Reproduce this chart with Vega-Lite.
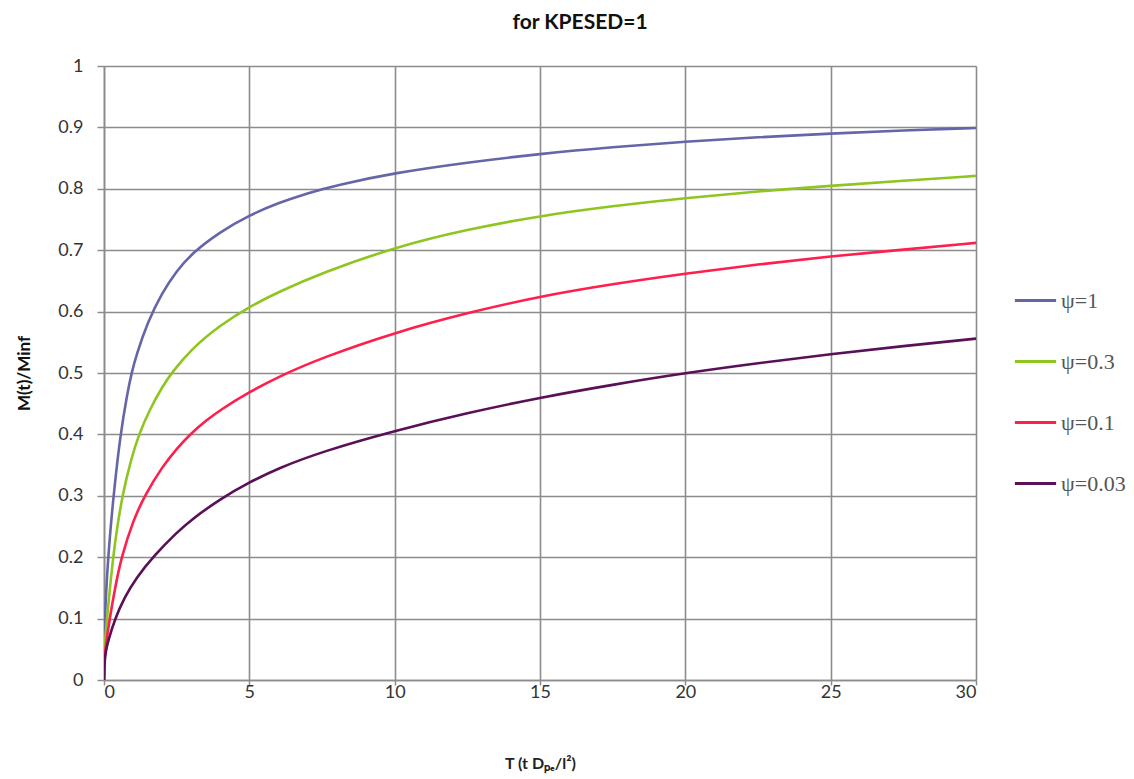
{
  "$schema": "https://vega.github.io/schema/vega-lite/v6.json",
  "width": 872,
  "height": 614,
  "autosize": "none",
  "padding": {"left": 104, "top": 66, "right": 158, "bottom": 99},
  "background": "white",
  "title": {
    "text": "for KPESED=1",
    "font": "Lato",
    "fontSize": 21,
    "fontWeight": "bold",
    "color": "#111",
    "anchor": "middle",
    "dx": 40,
    "offset": 24
  },
  "data": {
    "values": [
      {"psi": "ψ=1", "T": 0, "M": 0},
      {"psi": "ψ=1", "T": 0.02, "M": 0.08},
      {"psi": "ψ=1", "T": 0.05, "M": 0.12},
      {"psi": "ψ=1", "T": 0.1, "M": 0.168},
      {"psi": "ψ=1", "T": 0.2, "M": 0.235},
      {"psi": "ψ=1", "T": 0.35, "M": 0.31},
      {"psi": "ψ=1", "T": 0.55, "M": 0.395},
      {"psi": "ψ=1", "T": 0.8, "M": 0.467},
      {"psi": "ψ=1", "T": 0.95, "M": 0.5},
      {"psi": "ψ=1", "T": 1.1, "M": 0.527},
      {"psi": "ψ=1", "T": 1.5, "M": 0.583},
      {"psi": "ψ=1", "T": 2, "M": 0.631},
      {"psi": "ψ=1", "T": 2.5, "M": 0.666},
      {"psi": "ψ=1", "T": 3, "M": 0.694},
      {"psi": "ψ=1", "T": 4, "M": 0.73},
      {"psi": "ψ=1", "T": 5, "M": 0.757},
      {"psi": "ψ=1", "T": 6, "M": 0.777},
      {"psi": "ψ=1", "T": 7, "M": 0.793},
      {"psi": "ψ=1", "T": 8, "M": 0.806},
      {"psi": "ψ=1", "T": 10, "M": 0.826},
      {"psi": "ψ=1", "T": 12.5, "M": 0.843},
      {"psi": "ψ=1", "T": 15, "M": 0.857},
      {"psi": "ψ=1", "T": 17.5, "M": 0.868},
      {"psi": "ψ=1", "T": 20, "M": 0.877},
      {"psi": "ψ=1", "T": 22.5, "M": 0.884},
      {"psi": "ψ=1", "T": 25, "M": 0.89},
      {"psi": "ψ=1", "T": 27.5, "M": 0.895},
      {"psi": "ψ=1", "T": 30, "M": 0.899},

      {"psi": "ψ=0.3", "T": 0, "M": 0},
      {"psi": "ψ=0.3", "T": 0.02, "M": 0.05},
      {"psi": "ψ=0.3", "T": 0.05, "M": 0.072},
      {"psi": "ψ=0.3", "T": 0.11, "M": 0.103},
      {"psi": "ψ=0.3", "T": 0.2, "M": 0.148},
      {"psi": "ψ=0.3", "T": 0.32, "M": 0.202},
      {"psi": "ψ=0.3", "T": 0.45, "M": 0.248},
      {"psi": "ψ=0.3", "T": 0.64, "M": 0.302},
      {"psi": "ψ=0.3", "T": 0.9, "M": 0.354},
      {"psi": "ψ=0.3", "T": 1.21, "M": 0.402},
      {"psi": "ψ=0.3", "T": 1.6, "M": 0.443},
      {"psi": "ψ=0.3", "T": 2, "M": 0.477},
      {"psi": "ψ=0.3", "T": 2.32, "M": 0.5},
      {"psi": "ψ=0.3", "T": 3, "M": 0.539},
      {"psi": "ψ=0.3", "T": 4, "M": 0.578},
      {"psi": "ψ=0.3", "T": 5, "M": 0.608},
      {"psi": "ψ=0.3", "T": 6, "M": 0.632},
      {"psi": "ψ=0.3", "T": 7.5, "M": 0.663},
      {"psi": "ψ=0.3", "T": 10, "M": 0.705},
      {"psi": "ψ=0.3", "T": 12.5, "M": 0.734},
      {"psi": "ψ=0.3", "T": 15, "M": 0.756},
      {"psi": "ψ=0.3", "T": 17.5, "M": 0.772},
      {"psi": "ψ=0.3", "T": 20, "M": 0.785},
      {"psi": "ψ=0.3", "T": 22.5, "M": 0.796},
      {"psi": "ψ=0.3", "T": 25, "M": 0.805},
      {"psi": "ψ=0.3", "T": 27.5, "M": 0.813},
      {"psi": "ψ=0.3", "T": 30, "M": 0.821},

      {"psi": "ψ=0.1", "T": 0, "M": 0},
      {"psi": "ψ=0.1", "T": 0.02, "M": 0.035},
      {"psi": "ψ=0.1", "T": 0.05, "M": 0.052},
      {"psi": "ψ=0.1", "T": 0.2, "M": 0.102},
      {"psi": "ψ=0.1", "T": 0.4, "M": 0.155},
      {"psi": "ψ=0.1", "T": 0.6, "M": 0.2},
      {"psi": "ψ=0.1", "T": 1, "M": 0.26},
      {"psi": "ψ=0.1", "T": 1.43, "M": 0.303},
      {"psi": "ψ=0.1", "T": 2, "M": 0.347},
      {"psi": "ψ=0.1", "T": 2.5, "M": 0.377},
      {"psi": "ψ=0.1", "T": 3, "M": 0.402},
      {"psi": "ψ=0.1", "T": 3.5, "M": 0.422},
      {"psi": "ψ=0.1", "T": 4, "M": 0.44},
      {"psi": "ψ=0.1", "T": 5, "M": 0.469},
      {"psi": "ψ=0.1", "T": 6, "M": 0.494},
      {"psi": "ψ=0.1", "T": 7.5, "M": 0.525},
      {"psi": "ψ=0.1", "T": 10, "M": 0.566},
      {"psi": "ψ=0.1", "T": 12.5, "M": 0.598},
      {"psi": "ψ=0.1", "T": 15, "M": 0.625},
      {"psi": "ψ=0.1", "T": 17.5, "M": 0.645},
      {"psi": "ψ=0.1", "T": 20, "M": 0.662},
      {"psi": "ψ=0.1", "T": 22.5, "M": 0.677},
      {"psi": "ψ=0.1", "T": 25, "M": 0.69},
      {"psi": "ψ=0.1", "T": 27.5, "M": 0.701},
      {"psi": "ψ=0.1", "T": 30, "M": 0.712},

      {"psi": "ψ=0.03", "T": 0, "M": 0},
      {"psi": "ψ=0.03", "T": 0.02, "M": 0.03},
      {"psi": "ψ=0.03", "T": 0.06, "M": 0.047},
      {"psi": "ψ=0.03", "T": 0.15, "M": 0.065},
      {"psi": "ψ=0.03", "T": 0.38, "M": 0.1},
      {"psi": "ψ=0.03", "T": 0.7, "M": 0.134},
      {"psi": "ψ=0.03", "T": 1.1, "M": 0.166},
      {"psi": "ψ=0.03", "T": 1.75, "M": 0.204},
      {"psi": "ψ=0.03", "T": 2.5, "M": 0.24},
      {"psi": "ψ=0.03", "T": 3, "M": 0.261},
      {"psi": "ψ=0.03", "T": 4, "M": 0.295},
      {"psi": "ψ=0.03", "T": 5, "M": 0.322},
      {"psi": "ψ=0.03", "T": 6, "M": 0.345},
      {"psi": "ψ=0.03", "T": 7.5, "M": 0.372},
      {"psi": "ψ=0.03", "T": 10, "M": 0.406},
      {"psi": "ψ=0.03", "T": 12.5, "M": 0.435},
      {"psi": "ψ=0.03", "T": 15, "M": 0.46},
      {"psi": "ψ=0.03", "T": 17.5, "M": 0.481},
      {"psi": "ψ=0.03", "T": 20, "M": 0.5},
      {"psi": "ψ=0.03", "T": 22.5, "M": 0.516},
      {"psi": "ψ=0.03", "T": 25, "M": 0.531},
      {"psi": "ψ=0.03", "T": 27.5, "M": 0.544},
      {"psi": "ψ=0.03", "T": 30, "M": 0.556}
    ]
  },
  "mark": {"type": "line", "interpolate": "basis", "strokeWidth": 2.6, "clip": true},
  "encoding": {
    "x": {
      "field": "T",
      "type": "quantitative",
      "scale": {"domain": [0, 30], "nice": false},
      "axis": {
        "values": [0, 5, 10, 15, 20, 25, 30],
        "title": "T (t Dₚₑ/l²)",
        "titleFont": "Lato",
        "titleFontSize": 16,
        "titleFontWeight": "bold",
        "titleColor": "#222",
        "titlePadding": 54,
        "labelFont": "Lato",
        "labelFontSize": 18,
        "labelColor": "#333",
        "labelPadding": -2,
        "tickSize": 5,
        "tickColor": "#8c8c8c",
        "tickWidth": 1.5,
        "domainColor": "#8c8c8c",
        "domainWidth": 1.6,
        "gridColor": "#8c8c8c",
        "gridWidth": 1.6,
        "gridOpacity": 1
      }
    },
    "y": {
      "field": "M",
      "type": "quantitative",
      "scale": {"domain": [0, 1], "nice": false},
      "axis": {
        "values": [0, 0.1, 0.2, 0.3, 0.4, 0.5, 0.6, 0.7, 0.8, 0.9, 1],
        "format": "~g",
        "title": "M(t)/Minf",
        "titleFont": "Lato",
        "titleFontSize": 17,
        "titleFontWeight": "bold",
        "titleColor": "#111",
        "titlePadding": 24,
        "labelFont": "Lato",
        "labelFontSize": 18,
        "labelColor": "#333",
        "labelPadding": 14,
        "tickSize": 7,
        "tickColor": "#8c8c8c",
        "tickWidth": 1.5,
        "domainColor": "#8c8c8c",
        "domainWidth": 1.6,
        "gridColor": "#8c8c8c",
        "gridWidth": 1.6,
        "gridOpacity": 1
      }
    },
    "color": {
      "field": "psi",
      "type": "nominal",
      "scale": {
        "domain": ["ψ=1", "ψ=0.3", "ψ=0.1", "ψ=0.03"],
        "range": ["#6565a8", "#8ec51f", "#ff1f4c", "#5a1057"]
      },
      "legend": {
        "title": null,
        "orient": "none",
        "legendX": 909,
        "legendY": 212,
        "symbolType": "stroke",
        "symbolSize": 1700,
        "symbolStrokeWidth": 3,
        "labelFont": "Liberation Serif",
        "labelFontSize": 22,
        "labelColor": "#555",
        "labelOffset": 3,
        "rowPadding": 27
      }
    }
  },
  "config": {
    "view": {"stroke": null}
  }
}
